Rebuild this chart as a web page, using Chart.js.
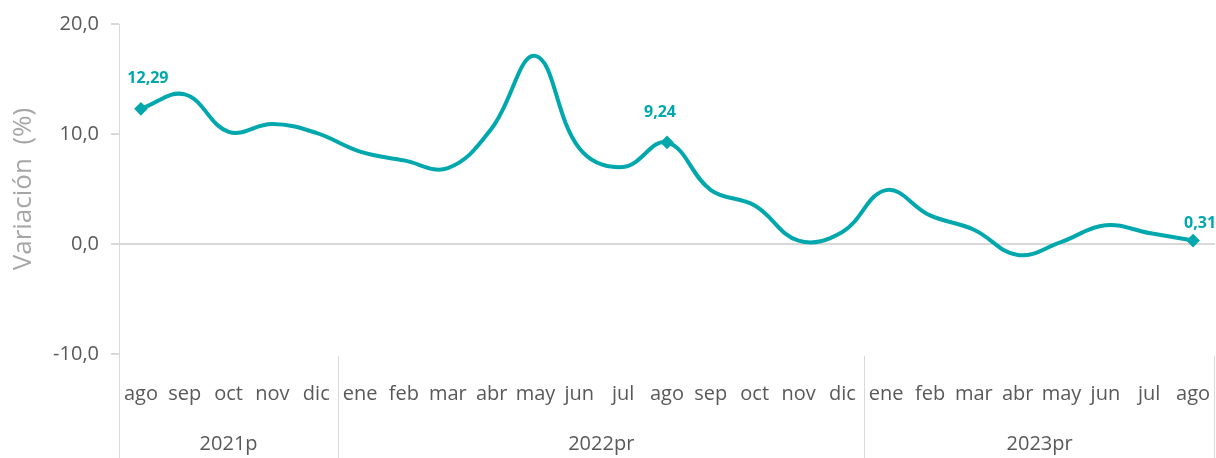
<!DOCTYPE html>
<html>
<head>
<meta charset="utf-8">
<script src="https://cdn.jsdelivr.net/npm/chart.js@4"></script>
<style>
  html, body { margin: 0; padding: 0; background: #fff; }
  #wrap { width: 1216px; height: 458px; }
</style>
</head>
<body>
<div id="wrap"><canvas id="linechart"></canvas></div>
<script>
// months, Aug 2021 .. Aug 2023
const months = ['ago', 'sep', 'oct', 'nov', 'dic',
    'ene', 'feb', 'mar', 'abr', 'may', 'jun', 'jul', 'ago', 'sep', 'oct', 'nov', 'dic',
    'ene', 'feb', 'mar', 'abr', 'may', 'jun', 'jul', 'ago'];
const years = ['2021p', '2022pr', '2023pr'];
const yearCounts = [5, 12, 8];
const variacion = [12.29, 13.6, 10.2, 10.9, 10.1,
    8.4, 7.6, 6.9, 10.5, 17.1, 8.7, 7.0, 9.24, 4.9, 3.5, 0.3, 1.1,
    4.9, 2.6, 1.3, -1.0, 0.2, 1.7, 1.0, 0.31];
const labelled = [0, 12, 24];
const yTicks = [-10, 0, 10, 20];

const teal = '#00A8AE';
const grey = '#d9d9d9';
const textGrey = '#595959';
const fontFamily = '"Open Sans", "Noto Sans", sans-serif';
// label nudges (px) for the labelled points
const labelShift = { 0: [7, -30], 12: [-7, -30], 24: [7, -17] };

const fmt = v => v.toFixed(2).replace('.', ',');

const extras = {
    id: 'extras',
    afterDraw(chart) {
        const ctx = chart.ctx;
        const x = chart.scales.x;
        const area = chart.chartArea;
        const half = (x.getPixelForValue(1) - x.getPixelForValue(0)) / 2;
        ctx.save();
        ctx.strokeStyle = grey;
        ctx.lineWidth = 1;
        // group separators and year labels
        let start = 0;
        ctx.font = '20px ' + fontFamily;
        ctx.fillStyle = textGrey;
        ctx.textAlign = 'center';
        ctx.textBaseline = 'middle';
        for (let g = 0; g < years.length; g++) {
            const x0 = x.getPixelForValue(start) - half;
            const x1 = x.getPixelForValue(start + yearCounts[g] - 1) + half;
            ctx.beginPath();
            ctx.moveTo(Math.round(x0) + 0.5, g === 0 ? area.bottom : area.bottom + 2);
            ctx.lineTo(Math.round(x0) + 0.5, chart.height);
            ctx.stroke();
            if (g === years.length - 1) {
                ctx.beginPath();
                ctx.moveTo(Math.round(x1) - 0.5, area.bottom + 2);
                ctx.lineTo(Math.round(x1) - 0.5, chart.height);
                ctx.stroke();
            }
            ctx.fillText(years[g], (x0 + x1) / 2, area.bottom + 90);
            start += yearCounts[g];
        }
        // value labels
        const meta = chart.getDatasetMeta(0);
        ctx.font = 'bold 16px ' + fontFamily;
        ctx.fillStyle = teal;
        labelled.forEach(i => {
            const p = meta.data[i];
            const [dx, dy] = labelShift[i];
            ctx.fillText(fmt(variacion[i]), p.x + dx, p.y + dy);
        });
        ctx.restore();
    }
};

window.addEventListener('load', () => {
    const ctx = document.getElementById('linechart');
    new Chart(ctx, {
        type: 'line',
        data: {
            labels: months,
            datasets: [{
                label: 'Variación',
                data: variacion,
                borderColor: teal,
                backgroundColor: teal,
                borderWidth: 4,
                tension: 0.4,
                pointStyle: 'rectRot',
                pointRadius: variacion.map((v, i) => labelled.includes(i) ? 4 : 0),
                pointHoverRadius: 0,
                clip: false
            }]
        },
        options: {
            responsive: true,
            maintainAspectRatio: false,
            animation: false,
            layout: { autoPadding: false, padding: { top: 24, right: 1, left: 0, bottom: 0 } },
            plugins: {
                legend: { display: false },
                tooltip: { enabled: false }
            },
            scales: {
                x: {
                    offset: true,
                    grid: { display: false, drawTicks: true, tickLength: 28 },
                    border: { display: false },
                    ticks: {
                        color: textGrey,
                        font: { family: fontFamily, size: 20 },
                        autoSkip: false,
                        maxRotation: 0,
                        padding: 0
                    },
                    afterFit: scale => { scale.height = 104; }
                },
                y: {
                    min: -10,
                    max: 20,
                    afterBuildTicks: scale => { scale.ticks = yTicks.map(v => ({ value: v })); },
                    grid: {
                        color: c => c.tick && c.tick.value === 0 ? grey : 'rgba(0,0,0,0)',
                        tickColor: grey,
                        tickLength: 8,
                        lineWidth: 2
                    },
                    border: { display: true, color: grey, width: 1 },
                    ticks: {
                        color: textGrey,
                        font: { family: fontFamily, size: 20 },
                        padding: 12,
                        callback: v => v.toFixed(1).replace('.', ',')
                    },
                    title: {
                        display: true,
                        text: 'Variación  (%)',
                        color: '#a6a6a6',
                        font: { family: fontFamily, size: 26 },
                        padding: { top: 8, bottom: 0 }
                    },
                    afterFit: scale => { scale.width = 119; }
                }
            }
        },
        plugins: [extras]
    });
});
</script>
</body>
</html>
